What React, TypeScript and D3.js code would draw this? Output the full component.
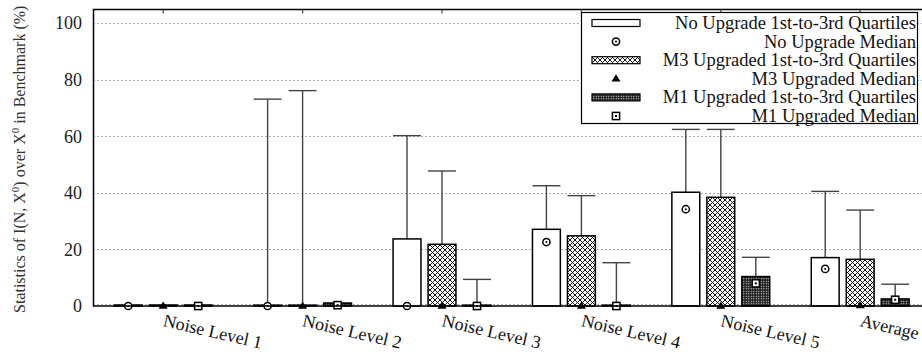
import React, { useEffect, useRef } from "react";
import * as d3 from "d3";

const groups = ["Noise Level 1", "Noise Level 2", "Noise Level 3", "Noise Level 4", "Noise Level 5", "Average"];

// quartiles / median / upper whisker (%)
const noUpgradeQ1 = [0, 0, 0, 0, 0, 0];
const noUpgradeQ3 = [0.3, 0.3, 23.7, 27.1, 40.2, 17.1];
const noUpgradeMedian = [0, 0, 0, 22.6, 34.2, 13.1];
const noUpgradeMax = [0.3, 73.1, 60.2, 42.5, 62.4, 40.5];

const m3Q1 = [0, 0, 0, 0, 0, 0];
const m3Q3 = [0.3, 0.3, 21.8, 24.8, 38.4, 16.5];
const m3Median = [0, 0, 0, 0, 0, 0.2];
const m3Max = [0.3, 76.1, 47.7, 39.0, 62.4, 33.9];

const m1Q1 = [0, 0, 0, 0, 0, 0];
const m1Q3 = [0.3, 1.0, 0.3, 0.3, 10.4, 2.5];
const m1Median = [0, 0.3, 0, 0, 8.0, 2.2];
const m1Max = [0.3, 1.0, 9.4, 15.3, 17.2, 7.7];

const yTicks = [0, 20, 40, 60, 80, 100];

const legendLabels = [
  "No Upgrade 1st-to-3rd Quartiles",
  "No Upgrade Median",
  "M3 Upgraded 1st-to-3rd Quartiles",
  "M3 Upgraded Median",
  "M1 Upgraded 1st-to-3rd Quartiles",
  "M1 Upgraded Median",
];

const W = 922;
const H = 358;
const FONT = "'Liberation Serif', 'Times New Roman', Times, serif";

const App = () => {
  const ref = useRef(null);

  useEffect(() => {
    const svg = d3.select(ref.current);
    svg.selectAll("*").remove();

    const left = 93.5, top = 9.5, bottom = 306;
    const x = d3.scaleLinear().domain([-0.5, 5.5]).range([left, left + 139.4 * 6]);
    const y = d3.scaleLinear().domain([0, 100]).range([bottom, 23]);
    const off = 0.251;
    const bw = x(0.2) - x(0);

    const defs = svg.append("defs");
    const hatch = defs.append("pattern")
      .attr("id", "hatch").attr("patternUnits", "userSpaceOnUse")
      .attr("width", 5).attr("height", 5);
    hatch.append("rect").attr("width", 5).attr("height", 5).attr("fill", "#fff");
    hatch.append("path")
      .attr("d", "M-1,1 l2,-2 M0,5 l5,-5 M4,6 l2,-2 M-1,4 l2,2 M0,0 l5,5 M4,-1 l2,2")
      .attr("stroke", "#000").attr("stroke-width", 0.9);
    const dots = defs.append("pattern")
      .attr("id", "dots").attr("patternUnits", "userSpaceOnUse")
      .attr("width", 2.5).attr("height", 2.5);
    dots.append("rect").attr("width", 2.5).attr("height", 2.5).attr("fill", "#1a1a1a");
    dots.append("rect").attr("x", 0.75).attr("y", 0.75).attr("width", 1.1).attr("height", 1.1).attr("fill", "#fff");

    // grid
    svg.append("g").selectAll("line").data(yTicks.slice(1)).enter().append("line")
      .attr("x1", left).attr("x2", W)
      .attr("y1", d => Math.round(y(d)) + 0.5).attr("y2", d => Math.round(y(d)) + 0.5)
      .attr("stroke", "#555").attr("stroke-width", 1).attr("stroke-dasharray", "1,3");
    svg.append("line")
      .attr("x1", left).attr("x2", W).attr("y1", bottom - 1.5).attr("y2", bottom - 1.5)
      .attr("stroke", "#666").attr("stroke-width", 1).attr("stroke-dasharray", "1,3");

    // y tick labels
    svg.append("g").selectAll("text").data(yTicks).enter().append("text")
      .attr("x", 82).attr("y", d => y(d)).attr("dy", "0.35em")
      .attr("text-anchor", "end").style("font-family", FONT).style("font-size", "18px")
      .attr("fill", "#222").text(d => d);

    // y axis title
    const yt = svg.append("text")
      .attr("transform", "translate(25,313) rotate(-90)")
      .style("font-family", FONT).style("font-size", "16px").attr("fill", "#333");
    yt.append("tspan").text("Statistics of I(N, X");
    yt.append("tspan").attr("dy", -6).style("font-size", "11px").text("0");
    yt.append("tspan").attr("dy", 6).text(") over X");
    yt.append("tspan").attr("dy", -6).style("font-size", "11px").text("0");
    yt.append("tspan").attr("dy", 6).text(" in Benchmark (%)");

    const series = [
      { q1: noUpgradeQ1, q3: noUpgradeQ3, med: noUpgradeMedian, max: noUpgradeMax, fill: "#fff", mark: "circle", dx: -off },
      { q1: m3Q1, q3: m3Q3, med: m3Median, max: m3Max, fill: "url(#hatch)", mark: "tri", dx: 0 },
      { q1: m1Q1, q3: m1Q3, med: m1Median, max: m1Max, fill: "url(#dots)", mark: "square", dx: off },
    ];

    const drawMark = (g, kind, cx, cy) => {
      if (kind === "circle") {
        g.append("circle").attr("cx", cx).attr("cy", cy).attr("r", 3.6)
          .attr("fill", "#fff").attr("stroke", "#000").attr("stroke-width", 1.5);
        g.append("circle").attr("cx", cx).attr("cy", cy).attr("r", 1).attr("fill", "#000");
      } else if (kind === "tri") {
        const s = 4.5;
        g.append("path")
          .attr("d", `M${cx},${cy - s} L${cx + s},${cy + s * 0.6} L${cx - s},${cy + s * 0.6} Z`)
          .attr("fill", "#000");
      } else {
        g.append("rect").attr("x", cx - 3.6).attr("y", cy - 3.6).attr("width", 7.2).attr("height", 7.2)
          .attr("fill", "#fff").attr("stroke", "#000").attr("stroke-width", 1.5);
        g.append("rect").attr("x", cx - 1).attr("y", cy - 1).attr("width", 2).attr("height", 2).attr("fill", "#000");
      }
    };

    const plot = svg.append("g");
    series.forEach(s => {
      groups.forEach((gname, i) => {
        const cx = x(i + s.dx);
        const g = plot.append("g");
        // whisker
        g.append("line").attr("x1", cx).attr("x2", cx).attr("y1", y(s.q3[i])).attr("y2", y(s.max[i]))
          .attr("stroke", "#444").attr("stroke-width", 1.4);
        g.append("line").attr("x1", cx - bw / 2).attr("x2", cx + bw / 2)
          .attr("y1", y(s.max[i])).attr("y2", y(s.max[i]))
          .attr("stroke", "#444").attr("stroke-width", 1.4);
        // box
        g.append("rect")
          .attr("x", cx - bw / 2).attr("width", bw)
          .attr("y", y(s.q3[i])).attr("height", Math.max(0.5, y(s.q1[i]) - y(s.q3[i])))
          .attr("fill", s.fill).attr("stroke", "#000").attr("stroke-width", 1.5);
        drawMark(g, s.mark, cx, y(s.med[i]));
      });
    });

    // frame
    svg.append("path")
      .attr("d", `M${W + 10},${top} H${left} V${bottom} H${W + 10}`)
      .attr("fill", "none").attr("stroke", "#000").attr("stroke-width", 1.5);
    svg.append("g").selectAll("line").data(groups).enter().append("line")
      .attr("x1", (d, i) => x(i)).attr("x2", (d, i) => x(i))
      .attr("y1", top).attr("y2", top + 4)
      .attr("stroke", "#444").attr("stroke-width", 1.2);

    // x labels
    svg.append("g").selectAll("text").data(groups).enter().append("text")
      .attr("transform", (d, i) => `translate(${x(i) - 1},326) rotate(13)`)
      .style("font-family", FONT).style("font-size", "18px").attr("fill", "#111")
      .text(d => d);

    // legend
    const lg = svg.append("g");
    lg.append("rect").attr("x", 581.5).attr("y", 12.5).attr("width", 336).attr("height", 111)
      .attr("fill", "#fff").attr("stroke", "#000").attr("stroke-width", 1.2);
    legendLabels.forEach((label, i) => {
      const cy = 23 + i * 18.6;
      const s = series[Math.floor(i / 2)];
      if (i % 2 === 0) {
        lg.append("rect").attr("x", 592).attr("y", cy - 3.5).attr("width", 48).attr("height", 7)
          .attr("fill", s.fill).attr("stroke", "#000").attr("stroke-width", 1.2);
      } else {
        drawMark(lg, s.mark, 616, cy);
      }
      lg.append("text").attr("x", 916).attr("y", cy + 6)
        .attr("text-anchor", "end").style("font-family", FONT).style("font-size", "18.5px")
        .attr("fill", "#111").text(label);
    });
  }, []);

  return (
    <svg ref={ref} width={W} height={H}
      style={{ position: "absolute", left: 0, top: 0, background: "#fff" }} />
  );
};

export default App;
